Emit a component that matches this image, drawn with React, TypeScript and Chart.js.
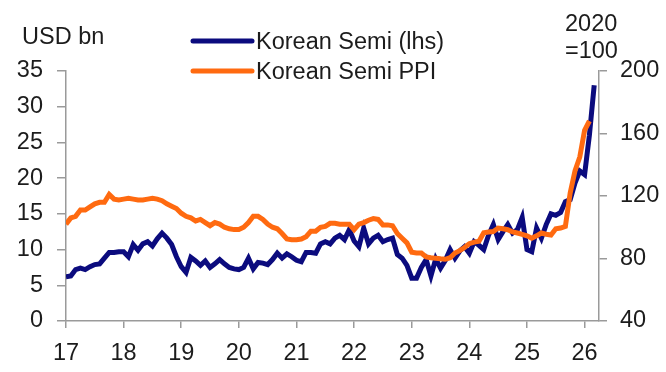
import React, { useEffect, useRef } from 'react';
import { Chart, registerables } from 'chart.js';

Chart.register(...registerables);

// Monthly data starting Jan 2017 (x axis: two-digit year)
const START_YEAR = 17;
const xTickYears = [17, 18, 19, 20, 21, 22, 23, 24, 25, 26];
const leftTicks = [0, 5, 10, 15, 20, 25, 30, 35];
const rightTicks = [40, 80, 120, 160, 200];

const seriesNames = ['Korean Semi (lhs)', 'Korean Semi PPI'];

// Korean semiconductor exports, USD bn (lhs)
const semiExports = [
  6.2, 6.3, 7.2, 7.4, 7.2, 7.6, 7.9, 8.0, 8.8, 9.6, 9.6, 9.7,
  9.7, 9.0, 10.7, 9.9, 10.8, 11.1, 10.5, 11.5, 12.3, 11.6, 10.7, 9.0,
  7.6, 6.8, 8.9, 8.4, 7.8, 8.4, 7.5, 8.0, 8.6, 8.0, 7.5, 7.3,
  7.2, 7.5, 8.8, 7.3, 8.2, 8.1, 7.9, 8.6, 9.5, 8.8, 9.4, 9.0,
  8.5, 8.3, 9.6, 9.6, 9.5, 10.8, 11.1, 10.8, 11.6, 12.0, 11.4, 12.8,
  11.2, 10.4, 13.0, 10.8, 11.6, 12.0, 11.1, 11.4, 11.6, 9.3, 8.8, 7.8,
  6.0, 6.0, 7.5, 8.6, 6.3, 8.7, 7.4, 8.5, 10.0, 8.8, 9.8, 10.4,
  9.5, 11.1, 10.6, 10.0, 12.0, 13.5, 11.4, 12.5, 13.5, 12.3, 12.8, 14.5,
  10.0, 9.7, 13.0, 11.6, 13.5, 15.0, 14.8, 15.2, 16.7, 17.0, 19.3, 21.0,
  20.5, 26.0, 33.0,
];

// Korean semiconductor PPI, 2020=100 (rhs)
const semiPPI = [
  102, 106, 107, 111, 111, 113, 115, 116, 116, 121, 118, 117.5,
  118, 118.5, 118, 117.5, 117.5, 118, 118.5, 118, 117, 115, 113.5, 112,
  109, 107, 106, 104, 105, 103, 101, 103, 102, 100, 99, 98.5,
  98.5, 100, 103, 107, 107, 105, 102, 100, 99, 96, 92.5, 92,
  92, 92.5, 94, 97.5, 97.5, 100, 100.5, 102.5, 102.5, 102, 102, 102,
  98.5, 102, 103, 104.5, 105.5, 105, 101.5, 101.5, 101, 96, 93, 90,
  84, 83.5, 83.5, 81, 80.5, 80.2, 79.8, 79.5, 80.5, 83.5, 85, 87,
  89.5, 90.5, 91, 96.5, 97, 97.3, 99.5, 99, 98.4, 97, 96.3, 95.5,
  94.5, 93, 94.5, 96.3, 95.5, 95, 99, 99.5, 100.5, 122, 136, 145,
  162, 168,
];

const BLUE = '#0b0b7e';
const ORANGE = '#ff6a10';
const AXIS = '#9a9a9a';
const TEXT = '#1c1c1c';
const FONT = "'Liberation Sans', Arial, sans-serif";
const FONT_SIZE = 23.5;

export default function App() {
  const ref = useRef<HTMLCanvasElement>(null);

  useEffect(() => {
    const toPoints = (arr: number[]) =>
      arr.map((v, i) => ({ x: START_YEAR + i / 12, y: v }));

    const textPlugin = {
      id: 'customText',
      afterDraw(chart: any) {
        const ctx = chart.ctx as CanvasRenderingContext2D;
        ctx.save();
        ctx.font = `${FONT_SIZE}px ${FONT}`;
        ctx.fillStyle = TEXT;
        ctx.textBaseline = 'alphabetic';
        ctx.textAlign = 'left';
        ctx.fillText('USD bn', 22, 44);
        ctx.fillText('2020', 565, 31);
        ctx.fillText('=100', 565, 58);
        // legend
        const items = [
          { name: seriesNames[0], color: BLUE, y: 41 },
          { name: seriesNames[1], color: ORANGE, y: 71 },
        ];
        items.forEach((it) => {
          ctx.strokeStyle = it.color;
          ctx.lineWidth = 5;
          ctx.lineCap = 'round';
          ctx.beginPath();
          ctx.moveTo(193, it.y);
          ctx.lineTo(252, it.y);
          ctx.stroke();
          ctx.fillText(it.name, 256, it.y + 8);
        });
        ctx.restore();
      },
    };

    const tickFont = { family: FONT, size: FONT_SIZE };

    const chart = new Chart(ref.current!, {
      type: 'line',
      data: {
        datasets: [
          {
            label: seriesNames[0],
            data: toPoints(semiExports),
            borderColor: BLUE,
            backgroundColor: BLUE,
            borderWidth: 5,
            pointRadius: 0,
            tension: 0,
            yAxisID: 'y',
            order: 2,
          },
          {
            label: seriesNames[1],
            data: toPoints(semiPPI),
            borderColor: ORANGE,
            backgroundColor: ORANGE,
            borderWidth: 5,
            pointRadius: 0,
            tension: 0,
            yAxisID: 'y1',
            order: 1,
          },
        ],
      },
      options: {
        responsive: false,
        animation: false,
        devicePixelRatio: 1,
        layout: { padding: { top: 71, left: 0, right: 0, bottom: 0 } },
        plugins: { legend: { display: false }, tooltip: { enabled: false } },
        scales: {
          x: {
            type: 'linear',
            min: xTickYears[0],
            max: 26.25,
            afterFit: (s: any) => { s.height = 51; },
            afterBuildTicks: (s: any) => { s.ticks = xTickYears.map((v) => ({ value: v })); },
            ticks: {
              stepSize: 1,
              includeBounds: false,
              font: tickFont,
              color: TEXT,
              padding: 11,
              maxRotation: 0,
              autoSkip: false,
              callback: (v: any) => String(v),
            },
            grid: { display: true, drawOnChartArea: false, drawTicks: true, tickLength: 7, color: AXIS, lineWidth: 1.5 },
            border: { display: true, color: AXIS, width: 1.5 },
          },
          y: {
            position: 'left',
            min: 0,
            max: 35,
            afterFit: (s: any) => { s.width = 66; },
            afterBuildTicks: (s: any) => { s.ticks = leftTicks.map((v) => ({ value: v })); },
            ticks: { stepSize: 5, font: tickFont, color: TEXT, padding: 14 },
            grid: { display: true, drawOnChartArea: false, drawTicks: true, tickLength: 9, color: AXIS, lineWidth: 1.5 },
            border: { display: true, color: AXIS, width: 1.5 },
          },
          y1: {
            position: 'right',
            min: 40,
            max: 200,
            afterFit: (s: any) => { s.width = 67; },
            afterBuildTicks: (s: any) => { s.ticks = rightTicks.map((v) => ({ value: v })); },
            ticks: { stepSize: 40, font: tickFont, color: TEXT, padding: 13 },
            grid: { display: true, drawOnChartArea: false, drawTicks: true, tickLength: 8, color: AXIS, lineWidth: 1.5 },
            border: { display: true, color: AXIS, width: 1.5 },
          },
        },
      },
      plugins: [textPlugin],
    } as any);

    return () => chart.destroy();
  }, []);

  return (
    <div style={{ position: 'absolute', left: 0, top: 0, width: 666, height: 372, background: '#fff' }}>
      <canvas ref={ref} width={666} height={372} style={{ width: 666, height: 372, display: 'block' }} />
    </div>
  );
}
